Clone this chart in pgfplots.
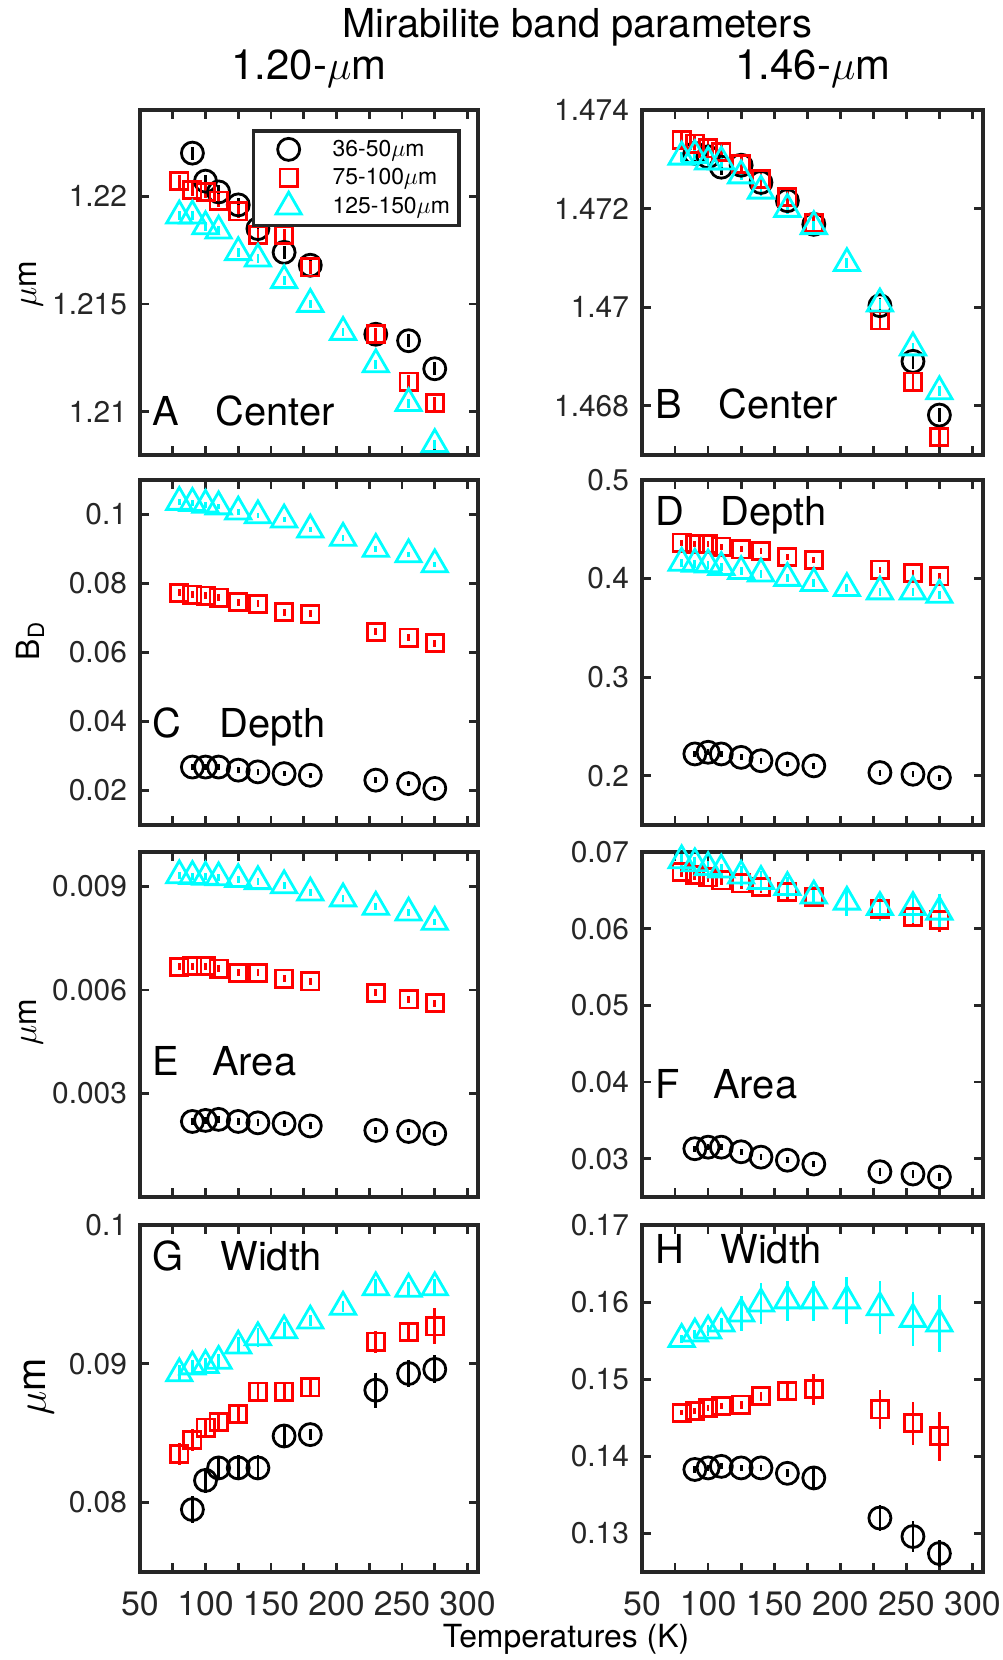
\documentclass[border=0pt]{standalone}
\usepackage{fontspec}
\setmainfont{TeX Gyre Heros}
\usepackage{pgfplots}
\pgfplotsset{compat=1.18}
\definecolor{axgray}{RGB}{38,38,38}
\definecolor{mcyan}{RGB}{0,255,255}
\definecolor{mred}{RGB}{255,0,0}
\pgfplotsset{
 panel/.style={scale only axis, width=169bp, height=172.5bp, xmin=50, xmax=308,
  xtick={50,100,...,300}, minor xtick={75,125,...,275}, xticklabels={},
  tick align=inside, major tick length=4.5bp, minor tick length=4.5bp,
  axis line style={line width=1.8bp, axgray},
  every tick/.style={line width=1.4bp, axgray},
  yticklabel style={font=\fontsize{15}{17}\selectfont, color=axgray, xshift=-3bp},
  xticklabel style={font=\fontsize{17}{19}\selectfont, color=axgray, yshift=-6bp},
  scaled y ticks=false, scaled x ticks=false, clip=false, anchor=north west},
 legimg/.style={legend image code/.code={\path[draw=none,fill=none] (0bp,-1bp) rectangle (35bp,1bp);\draw[##1, only marks] plot coordinates {(15bp,0bp)};}},
 ser1/.style={only marks, black, mark=o, mark size=5.5bp, line width=1.4bp, legimg,
  error bars/.cd, y dir=both, y explicit, error mark=none, error bar style={line width=1.4bp}},
 ser2/.style={only marks, mred, mark=square, mark size=4.3bp, line width=1.4bp, legimg,
  error bars/.cd, y dir=both, y explicit, error mark=none, error bar style={line width=1.4bp}},
 ser3/.style={only marks, mcyan, mark=triangle, mark size=7.3bp, line width=1.4bp, legimg,
  error bars/.cd, y dir=both, y explicit, error mark=none, error bar style={line width=1.4bp}},
}
\begin{document}
\begin{tikzpicture}
\path[use as bounding box] (0,0) rectangle (501.5bp,-830bp);
% ---------------- A
\begin{axis}[panel, at={(70bp,-55bp)}, ymin=1.208, ymax=1.224,
  ytick={1.21,1.215,1.22}, yticklabels={1.21,1.215,1.22},
  legend style={at={(rel axis cs:0.331,0.945)}, anchor=north west, draw=axgray, line width=1.8bp,
   font=\fontsize{11.5}{13}\selectfont, cells={anchor=west}, row sep=0.5bp, inner sep=2.5bp, fill=white}]
\addplot[ser1] table[x=x,y=y,y error=e,row sep=\\]{x y e\\
90 1.2220 0.0003\\ 100 1.2207 0.0003\\ 110 1.2202 0.0003\\ 125 1.2196 0.0003\\ 140 1.2185 0.0003\\
160 1.2174 0.0003\\ 180 1.2168 0.0003\\ 230 1.2136 0.0003\\ 255 1.2133 0.0003\\ 275 1.2120 0.0003\\};
\addplot[ser2] table[x=x,y=y,y error=e,row sep=\\]{x y e\\
80 1.2207 0.0003\\ 90 1.2203 0.0003\\ 100 1.2202 0.0003\\ 110 1.2198 0.0003\\ 125 1.2193 0.0003\\
140 1.2182 0.0003\\ 160 1.2182 0.0003\\ 180 1.2167 0.0003\\ 230 1.2136 0.0003\\ 255 1.2114 0.0003\\ 275 1.2104 0.0003\\};
\addplot[ser3] table[x=x,y=y,y error=e,row sep=\\]{x y e\\
80 1.2191 0.0002\\ 90 1.2191 0.0002\\ 100 1.2186 0.0002\\ 110 1.2184 0.0002\\ 125 1.2174 0.0002\\
140 1.2171 0.0002\\ 160 1.2161 0.0002\\ 180 1.2150 0.0002\\ 205 1.2137 0.0002\\ 230 1.2122 0.0002\\
255 1.2104 0.0002\\ 275 1.2085 0.0002\\};
\legend{36-50$\mu$m, 75-100$\mu$m, 125-150$\mu$m}
\end{axis}
% ---------------- B
\begin{axis}[panel, at={(321bp,-55bp)}, width=170.5bp, ymin=1.467, ymax=1.474,
  ytick={1.468,1.47,1.472,1.474}, yticklabels={1.468,1.47,1.472,1.474}]
\addplot[ser1] table[x=x,y=y,y error=e,row sep=\\]{x y e\\
90 1.47312 0.00015\\ 100 1.47305 0.00015\\ 110 1.47284 0.00015\\ 125 1.47288 0.00015\\ 140 1.47253 0.00015\\
160 1.47216 0.00015\\ 180 1.47168 0.00015\\ 230 1.47003 0.00015\\ 255 1.46890 0.00015\\ 275 1.46781 0.00015\\};
\addplot[ser2] table[x=x,y=y,y error=e,row sep=\\]{x y e\\
80 1.47339 0.00015\\ 90 1.47332 0.00015\\ 100 1.47322 0.00015\\ 110 1.47315 0.00015\\ 125 1.47291 0.00015\\
140 1.47260 0.00015\\ 160 1.47223 0.00015\\ 180 1.47171 0.00015\\ 230 1.46973 0.00015\\ 255 1.46849 0.00015\\ 275 1.46736 0.00015\\};
\addplot[ser3] table[x=x,y=y,y error=e,row sep=\\]{x y e\\
80 1.47305 0.0001\\ 90 1.47308 0.0001\\ 100 1.47295 0.0001\\ 110 1.47295 0.0001\\ 125 1.47267 0.0001\\
140 1.47236 0.0001\\ 160 1.47199 0.0001\\ 180 1.47164 0.0001\\ 205 1.47089 0.0001\\ 230 1.47007 0.0001\\
255 1.46918 0.0001\\ 275 1.46829 0.0001\\};
\end{axis}
% ---------------- C
\begin{axis}[panel, at={(70bp,-240bp)}, ymin=0.01, ymax=0.11,
  ytick={0.02,0.04,0.06,0.08,0.1}, yticklabels={0.02,0.04,0.06,0.08,0.1}]
\addplot[ser1] table[x=x,y=y,y error=e,row sep=\\]{x y e\\
90 0.0268 0.0008\\ 100 0.0268 0.0008\\ 110 0.0268 0.0008\\ 125 0.0259 0.0008\\ 140 0.0254 0.0008\\
160 0.0249 0.0008\\ 180 0.0244 0.0008\\ 230 0.0230 0.0008\\ 255 0.0220 0.0008\\ 275 0.0206 0.0008\\};
\addplot[ser2] table[x=x,y=y,y error=e,row sep=\\]{x y e\\
80 0.0773 0.001\\ 90 0.0768 0.001\\ 100 0.0765 0.001\\ 110 0.0759 0.001\\ 125 0.0746 0.001\\
140 0.0741 0.001\\ 160 0.0717 0.001\\ 180 0.0712 0.001\\ 230 0.0660 0.001\\ 255 0.0643 0.001\\ 275 0.0627 0.001\\};
\addplot[ser3] table[x=x,y=y,y error=e,row sep=\\]{x y e\\
80 0.1036 0.0008\\ 90 0.1033 0.0008\\ 100 0.1028 0.0008\\ 110 0.1023 0.0008\\ 125 0.1008 0.0008\\
140 0.0997 0.0008\\ 160 0.0985 0.0008\\ 180 0.0956 0.0008\\ 205 0.0932 0.0008\\ 230 0.0900 0.0008\\
255 0.0884 0.0008\\ 275 0.0855 0.0008\\};
\end{axis}
% ---------------- D
\begin{axis}[panel, at={(321bp,-240bp)}, width=170.5bp, ymin=0.15, ymax=0.5,
  ytick={0.2,0.3,0.4,0.5}, yticklabels={0.2,0.3,0.4,0.5}]
\addplot[ser1] table[x=x,y=y,y error=e,row sep=\\]{x y e\\
90 0.2221 0.003\\ 100 0.2238 0.003\\ 110 0.2221 0.003\\ 125 0.2186 0.003\\ 140 0.2152 0.003\\
160 0.2118 0.003\\ 180 0.2100 0.003\\ 230 0.2032 0.003\\ 255 0.2015 0.003\\ 275 0.1980 0.003\\};
\addplot[ser2] table[x=x,y=y,y error=e,row sep=\\]{x y e\\
80 0.4365 0.003\\ 90 0.4348 0.003\\ 100 0.4348 0.003\\ 110 0.4324 0.003\\ 125 0.4297 0.003\\
140 0.4279 0.003\\ 160 0.4221 0.003\\ 180 0.4187 0.003\\ 230 0.4091 0.003\\ 255 0.4056 0.003\\ 275 0.4022 0.003\\};
\addplot[ser3] table[x=x,y=y,y error=e,row sep=\\]{x y e\\
80 0.4159 0.004\\ 90 0.4149 0.004\\ 100 0.4142 0.004\\ 110 0.4115 0.004\\ 125 0.4074 0.004\\
140 0.4050 0.004\\ 160 0.4005 0.004\\ 180 0.3953 0.004\\ 205 0.3902 0.004\\ 230 0.3868 0.004\\
255 0.3868 0.004\\ 275 0.3833 0.004\\};
\end{axis}
% ---------------- E
\begin{axis}[panel, at={(70bp,-426bp)}, ymin=0, ymax=0.01,
  ytick={0.003,0.006,0.009}, yticklabels={0.003,0.006,0.009}]
\addplot[ser1] table[x=x,y=y,y error=e,row sep=\\]{x y e\\
90 0.00219 0.0001\\ 100 0.00222 0.0001\\ 110 0.00225 0.0001\\ 125 0.00219 0.0001\\ 140 0.00215 0.0001\\
160 0.00213 0.0001\\ 180 0.00206 0.0001\\ 230 0.00193 0.0001\\ 255 0.00190 0.0001\\ 275 0.00184 0.0001\\};
\addplot[ser2] table[x=x,y=y,y error=e,row sep=\\]{x y e\\
80 0.00667 0.0001\\ 90 0.00669 0.0001\\ 100 0.00669 0.0001\\ 110 0.00662 0.0001\\ 125 0.00650 0.0001\\
140 0.00650 0.0001\\ 160 0.00633 0.0001\\ 180 0.00625 0.0001\\ 230 0.00592 0.0001\\ 255 0.00573 0.0001\\ 275 0.00562 0.0001\\};
\addplot[ser3] table[x=x,y=y,y error=e,row sep=\\]{x y e\\
80 0.00932 0.0001\\ 90 0.00930 0.0001\\ 100 0.00928 0.0001\\ 110 0.00926 0.0001\\ 125 0.00921 0.0001\\
140 0.00915 0.0001\\ 160 0.00903 0.0001\\ 180 0.00882 0.0001\\ 205 0.00865 0.0001\\ 230 0.00841 0.0001\\
255 0.00824 0.0001\\ 275 0.00797 0.0001\\};
\end{axis}
% ---------------- F
\begin{axis}[panel, at={(321bp,-426bp)}, width=170.5bp, ymin=0.025, ymax=0.07,
  ytick={0.03,0.04,0.05,0.06,0.07}, yticklabels={0.03,0.04,0.05,0.06,0.07}]
\addplot[ser1] table[x=x,y=y,y error=e,row sep=\\]{x y e\\
90 0.0313 0.0004\\ 100 0.0315 0.0004\\ 110 0.0315 0.0004\\ 125 0.0309 0.0004\\ 140 0.0302 0.0004\\
160 0.0298 0.0004\\ 180 0.0293 0.0004\\ 230 0.0283 0.0005\\ 255 0.0280 0.0005\\ 275 0.0276 0.0005\\};
\addplot[ser2] table[x=x,y=y,y error=e,row sep=\\]{x y e\\
80 0.0674 0.0006\\ 90 0.0670 0.0006\\ 100 0.0667 0.0006\\ 110 0.0663 0.0006\\ 125 0.0659 0.0007\\
140 0.0654 0.0008\\ 160 0.0648 0.0009\\ 180 0.0641 0.0010\\ 230 0.0626 0.0012\\ 255 0.0615 0.0013\\ 275 0.0611 0.0015\\};
\addplot[ser3] table[x=x,y=y,y error=e,row sep=\\]{x y e\\
80 0.0689 0.0008\\ 90 0.0685 0.0008\\ 100 0.0680 0.0008\\ 110 0.0677 0.0008\\ 125 0.0669 0.0013\\
140 0.0662 0.0013\\ 160 0.0654 0.0013\\ 180 0.0643 0.0013\\ 205 0.0635 0.0018\\ 230 0.0628 0.0018\\
255 0.0628 0.0020\\ 275 0.0622 0.0023\\};
\end{axis}
% ---------------- G
\begin{axis}[panel, at={(70bp,-612.5bp)}, height=173.5bp, ymin=0.075, ymax=0.1,
  ytick={0.08,0.09,0.1}, yticklabels={0.08,0.09,0.1}, xticklabels={50,100,150,200,250,300}]
\addplot[ser1] table[x=x,y=y,y error=e,row sep=\\]{x y e\\
90 0.0795 0.00096\\ 100 0.0816 0.0009\\ 110 0.0825 0.0007\\ 125 0.0825 0.0009\\ 140 0.0825 0.0009\\
160 0.0848 0.0008\\ 180 0.0849 0.0004\\ 230 0.0881 0.00125\\ 255 0.0893 0.001\\ 275 0.0896 0.001\\};
\addplot[ser2] table[x=x,y=y,y error=e,row sep=\\]{x y e\\
80 0.0835 0.0008\\ 90 0.0845 0.0008\\ 100 0.0854 0.0007\\ 110 0.0858 0.0007\\ 125 0.0864 0.0007\\
140 0.0880 0.0007\\ 160 0.0880 0.0007\\ 180 0.0883 0.0007\\ 230 0.0916 0.0008\\ 255 0.0923 0.0007\\ 275 0.0927 0.0013\\};
\addplot[ser3] table[x=x,y=y,y error=e,row sep=\\]{x y e\\
80 0.0893 0.0006\\ 90 0.0898 0.0005\\ 100 0.0899 0.0005\\ 110 0.0902 0.0005\\ 125 0.0913 0.0006\\
140 0.0919 0.0007\\ 160 0.0924 0.0006\\ 180 0.0931 0.0004\\ 205 0.0941 0.0004\\ 230 0.0955 0.0006\\
255 0.0954 0.0005\\ 275 0.0955 0.0006\\};
\end{axis}
% ---------------- H
\begin{axis}[panel, at={(321bp,-612.5bp)}, width=170.5bp, height=173.5bp, ymin=0.125, ymax=0.17,
  ytick={0.13,0.14,0.15,0.16,0.17}, yticklabels={0.13,0.14,0.15,0.16,0.17}, xticklabels={50,100,150,200,250,300}]
\addplot[ser1] table[x=x,y=y,y error=e,row sep=\\]{x y e\\
90 0.1383 0.0004\\ 100 0.1385 0.0004\\ 110 0.1387 0.0004\\ 125 0.1385 0.0004\\ 140 0.1385 0.0004\\
160 0.1378 0.0005\\ 180 0.1372 0.0015\\ 230 0.1320 0.0017\\ 255 0.1296 0.0020\\ 275 0.1274 0.0018\\};
\addplot[ser2] table[x=x,y=y,y error=e,row sep=\\]{x y e\\
80 0.14565 0.0003\\ 90 0.1459 0.0004\\ 100 0.1463 0.0004\\ 110 0.1465 0.0004\\ 125 0.1467 0.0005\\
140 0.1478 0.0006\\ 160 0.1485 0.0013\\ 180 0.1487 0.0020\\ 230 0.1461 0.0025\\ 255 0.1443 0.0028\\ 275 0.1426 0.0032\\};
\addplot[ser3] table[x=x,y=y,y error=e,row sep=\\]{x y e\\
80 0.1552 0.0005\\ 90 0.1559 0.0005\\ 100 0.1563 0.0007\\ 110 0.1572 0.0008\\ 125 0.1585 0.0023\\
140 0.1598 0.0027\\ 160 0.1602 0.0026\\ 180 0.1602 0.0026\\ 205 0.1602 0.0030\\ 230 0.1593 0.0034\\
255 0.1578 0.0035\\ 275 0.1572 0.0037\\};
\end{axis}
% ---------------- texts
\node[anchor=base, inner sep=0pt, font=\fontsize{20}{24}\selectfont] at (288.5bp,-18.5bp) {Mirabilite band parameters};
\node[anchor=base, inner sep=0pt, font=\fontsize{21}{25}\selectfont] at (154.5bp,-39.75bp) {1.20-$\mu$m};
\node[anchor=base, inner sep=0pt, font=\fontsize{21}{25}\selectfont] at (406.5bp,-39.75bp) {1.46-$\mu$m};
\node[anchor=base, inner sep=0pt, font=\fontsize{16}{19}\selectfont] at (283bp,-823.5bp) {Temperatures (K)};
\begin{scope}[every node/.style={anchor=base west, inner sep=0pt, font=\fontsize{20}{24}\selectfont}]
\node at (76bp,-212.5bp) {A}; \node at (107.5bp,-212.5bp) {Center};
\node at (327.5bp,-209bp) {B}; \node at (359bp,-209bp) {Center};
\node at (76bp,-368.5bp) {C}; \node at (109.5bp,-368.5bp) {Depth};
\node at (327.5bp,-262.5bp) {D}; \node at (360bp,-262.5bp) {Depth};
\node at (76bp,-537.5bp) {E}; \node at (106bp,-537.5bp) {Area};
\node at (327.5bp,-549bp) {F}; \node at (356.5bp,-549bp) {Area};
\node at (76bp,-635bp) {G}; \node at (110bp,-635bp) {Width};
\node at (327.5bp,-631.5bp) {H}; \node at (360bp,-631.5bp) {Width};
\end{scope}
\begin{scope}[every node/.style={rotate=90, anchor=center, inner sep=0pt, font=\fontsize{16}{19}\selectfont}]
\node at (15.5bp,-142bp) {$\mu$m};
\node at (15bp,-320.5bp) {B\textsubscript{D}};
\node at (15.5bp,-511bp) {$\mu$m};
\node[font=\fontsize{20}{24}\selectfont] at (19.5bp,-693.5bp) {$\mu$m};
\end{scope}
\end{tikzpicture}
\end{document}
